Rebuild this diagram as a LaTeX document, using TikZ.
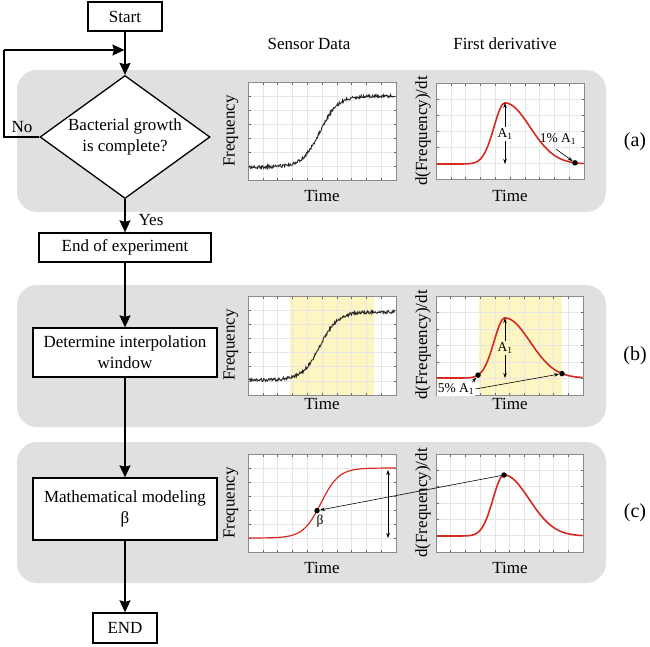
\documentclass[tikz,border=0pt]{standalone}
\usepackage{fontspec}
\setmainfont{Liberation Serif}
\usetikzlibrary{shapes.geometric,arrows.meta}
\definecolor{panelc}{HTML}{E0E0E0}
\definecolor{yel}{HTML}{FDF6C3}
\definecolor{gridc}{HTML}{E6E6E6}
\definecolor{curvec}{HTML}{D42A20}
\definecolor{framec}{HTML}{8A8A8A}
\newcommand\pgrid[5]{%
  \foreach \i in {1,...,9}{%
    \draw[gridline] ({#1+\i*(#3-#1)/10},#2) -- ({#1+\i*(#3-#1)/10},#4);
    \draw[tickline] ({#1+\i*(#3-#1)/10},#2) -- ++(0,2.5);
    \draw[tickline] ({#1+\i*(#3-#1)/10},#4) -- ++(0,-2.5);}
  \foreach \j in {1,...,#5}{%
    \draw[gridline] (#1,{#2+\j*(#4-#2)/#5}) -- (#3,{#2+\j*(#4-#2)/#5});
    \draw[tickline] (#1,{#2+\j*(#4-#2)/#5}) -- ++(2.5,0);
    \draw[tickline] (#3,{#2+\j*(#4-#2)/#5}) -- ++(-2.5,0);}
  \draw[frameline] (#1,#2) rectangle (#3,#4);}
\begin{document}
\begin{tikzpicture}[x=1pt,y=-1pt,
  base/.style={font=\fontsize{17}{21}\selectfont},
  flowbox/.style={base,draw,line width=1.3pt,fill=white,inner sep=0pt,align=center},
  flowarrow/.style={line width=1.3pt,-{Stealth[length=12pt,width=11pt,inset=1.5pt]}},
  flowline/.style={line width=1.3pt},
  gridline/.style={gridc,line width=0.5pt},
  tickline/.style={black!60,line width=0.5pt},
  frameline/.style={framec,line width=0.8pt},
  redcurve/.style={curvec,line width=1.6pt},
  noisy/.style={black!85,line width=0.9pt},
  dotm/.style={circle,fill=black,inner sep=0pt,minimum size=5.5pt},
  small/.style={font=\fontsize{13.5}{16}\selectfont},
  thinarrow/.style={line width=0.6pt,-{Stealth[length=5pt,width=3.5pt]}},
  dblarrow/.style={line width=0.6pt,{Stealth[length=5pt,width=3.5pt]}-{Stealth[length=5pt,width=3.5pt]}},
  axlab/.style={base,rotate=90},
  tag/.style={font=\fontsize{20}{24}\selectfont}]
\useasboundingbox (0,0) rectangle (650,646);
\pgfmathsetseed{7}
% panels
\fill[panelc,rounded corners=20pt] (17,70) rectangle (606,212);
\fill[panelc,rounded corners=20pt] (17,285) rectangle (606,427);
\fill[panelc,rounded corners=20pt] (17,442) rectangle (606,583);
% headers
\node[base] (hsens) at (309,44) {Sensor Data};
\node[base] (hderiv) at (505,44) {First derivative};
% ---------- plots (a)
\fill[white] (248,82) rectangle (396,180);
\pgrid{248}{82}{396}{180}{7}
\draw[noisy] plot[domain=249:395,samples=260] (\x,{167-71/(1+exp(-(\x-320)/9))+1.6*rand});
\fill[white] (436,83) rectangle (584,179);
\pgrid{436}{83}{584}{179}{6}
\draw[redcurve] plot[domain=436.5:583.5,samples=200] (\x,{\x<505 ? 164-61*exp(-((\x-505)^2)/242) : 164-61*exp(-((\x-505)^2)/1250)});
\coordinate (apk) at (505,103);
\coordinate (abase) at (505,164);
\draw[dblarrow] (apk) -- (abase);
\node[small,fill=white,inner sep=1pt] (aA) at (505,134) {A\textsubscript{1}};
\node[dotm] (adot) at (575,162.8) {};
\node[small] (aone) at (558,139) {1\% A\textsubscript{1}};
\draw[thinarrow] (aone.south) ++(-2,1) -- (adot);
\node[axlab] (afreq) at (231,131) {Frequency};
\node[axlab] (ader) at (423,131) {d(Frequency)/dt};
\node[base] (at1) at (322,196) {Time};
\node[base] (at2) at (510,196) {Time};
\node[tag] (taga) at (635,142) {(a)};
% ---------- plots (b)
\fill[white] (248,296) rectangle (396,395);
\fill[yel] (290,296) rectangle (374,395);
\pgrid{248}{296}{396}{395}{7}
\draw[noisy] plot[domain=249:395,samples=260] (\x,{380-68/(1+exp(-(\x-320)/9))+1.6*rand});
\fill[white] (436,296) rectangle (583,395);
\fill[yel] (479,296) rectangle (562,395);
\pgrid{436}{296}{583}{395}{6}
\draw[redcurve] plot[domain=436.5:582.5,samples=200] (\x,{\x<505 ? 378-60*exp(-((\x-505)^2)/242) : 378-60*exp(-((\x-505)^2)/1250)});
\coordinate (bpk) at (505,318);
\coordinate (bbase) at (505,378);
\draw[dblarrow] (bpk) -- (bbase);
\node[small,fill=yel,inner sep=1pt] (bA) at (505,348) {A\textsubscript{1}};
\node[dotm] (bdot1) at (478,375.1) {};
\node[dotm] (bdot2) at (562,373.6) {};
\node[small,fill=white,inner sep=1pt] (bfive) at (456,389) {5\% A\textsubscript{1}};
\draw[thinarrow] (bfive.north east) ++(-3,0) -- (bdot1);
\draw[thinarrow] (bfive.east) -- (bdot2);
\node[axlab] (bfreq) at (231,345) {Frequency};
\node[axlab] (bder) at (423,345) {d(Frequency)/dt};
\node[base] (bt1) at (322,404) {Time};
\node[base] (bt2) at (510,404) {Time};
\node[tag] (tagb) at (635,356) {(b)};
% ---------- plots (c)
\fill[white] (248,454) rectangle (396,552);
\pgrid{248}{454}{396}{552}{7}
\draw[redcurve,line width=1.2pt] plot[domain=248.5:395.5,samples=200] (\x,{538-70/(1+exp(-(\x-321)/9))});
\fill[white] (436,454) rectangle (583,552);
\pgrid{436}{454}{583}{552}{6}
\draw[redcurve] plot[domain=436.5:582.5,samples=200] (\x,{\x<504 ? 536-61*exp(-((\x-504)^2)/242) : 536-61*exp(-((\x-504)^2)/1250)});
\coordinate (ctop) at (388,470);
\coordinate (cbot) at (388,538);
\draw[dblarrow] (ctop) -- (cbot);
\node[dotm] (cbeta) at (317,510.6) {};
\node[small] (cbl) at (320,521) {β};
\node[dotm] (cpk) at (504,475) {};
\draw[thinarrow] (cpk) -- (cbeta);
\node[axlab] (cfreq) at (231,503) {Frequency};
\node[axlab] (cder) at (423,503) {d(Frequency)/dt};
\node[base] (ct1) at (322,568) {Time};
\node[base] (ct2) at (510,568) {Time};
\node[tag] (tagc) at (635,513) {(c)};
% ---------- flowchart
\node[flowbox,minimum width=74pt,minimum height=29pt] (start) at (125,16.5) {Start};
\node[base,draw,line width=1.3pt,fill=white,diamond,aspect=1.38,inner sep=0pt,minimum width=170pt,minimum height=123pt,align=center] (dec) at (125,137) {\fontsize{17}{24}\selectfont Bacterial growth\\ \fontsize{17}{24}\selectfont is complete?};
\node[flowbox,minimum width=172pt,minimum height=29pt] (endexp) at (125,247.5) {End of experiment};
\node[flowbox,minimum width=184pt,minimum height=49pt] (interp) at (125,352.5) {Determine interpolation\\window};
\node[flowbox,minimum width=184pt,minimum height=62pt] (model) at (125,509) {Mathematical modeling\\β};
\node[flowbox,minimum width=64pt,minimum height=30pt] (fin) at (125,628) {END};
\coordinate (loopin) at (125,50);
\coordinate (loopl) at (4,137);
\coordinate (loopt) at (4,50);
\draw[flowarrow] (start.south) -- (dec.north);
\draw[flowline] (dec.west) -- (loopl) -- (loopt);
\draw[line width=1.3pt,-{Stealth[length=12pt,width=11pt,inset=1.5pt]}] (loopt) -- ([xshift=-0.6pt]loopin);
\draw[flowarrow] (dec.south) -- (endexp.north);
\draw[flowarrow] (endexp.south) -- (interp.north);
\draw[flowarrow] (interp.south) -- (model.north);
\draw[flowarrow] (model.south) -- (fin.north);
\node[base] (no) at (22,127) {No};
\node[base] (yes) at (151,220) {Yes};
\end{tikzpicture}
\end{document}
